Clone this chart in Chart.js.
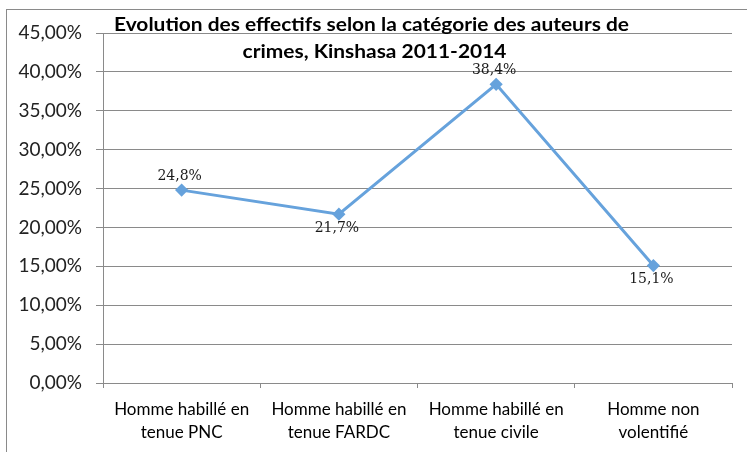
<!DOCTYPE html>
<html>
<head>
<meta charset="utf-8">
<script src="https://cdn.jsdelivr.net/npm/chart.js@4/dist/chart.umd.min.js"></script>
<style>
  html, body { margin: 0; padding: 0; background: #fff; }
  #wrap { width: 747px; height: 452px; position: relative; }
</style>
</head>
<body>
<div id="wrap"><canvas id="c" width="747" height="452"></canvas></div>
<script>
const categories = [
  ['Homme habillé en', 'tenue PNC'],
  ['Homme habillé en', 'tenue FARDC'],
  ['Homme habillé en', 'tenue civile'],
  ['Homme non', 'volentifié']
];
const values = [24.8, 21.7, 38.4, 15.1];
const labelSide = ['above', 'below', 'above', 'below'];
const titleLines = ['Evolution des effectifs selon la catégorie des auteurs de', 'crimes, Kinshasa 2011-2014'];
const yMin = 0, yMax = 45, yStep = 5;

const frPct = (v, d) => v.toFixed(d).replace('.', ',') + '%';

const decor = {
  id: 'decor',
  beforeDraw(chart) {
    const ctx = chart.ctx;
    ctx.save();
    ctx.fillStyle = '#fff';
    ctx.fillRect(0, 0, chart.width, chart.height);
    ctx.strokeStyle = '#8a8a8a';
    ctx.lineWidth = 1;
    ctx.strokeRect(6.5, 9.5, chart.width + 20, chart.height + 20);
    ctx.restore();
  },
  afterDatasetsDraw(chart) {
    const ctx = chart.ctx;
    ctx.save();
    // data labels
    const meta = chart.getDatasetMeta(0);
    ctx.font = '14px "DejaVu Serif"';
    ctx.fillStyle = '#1a1a1a';
    ctx.textAlign = 'center';
    ctx.textBaseline = 'middle';
    meta.data.forEach((pt, i) => {
      const off = labelSide[i] === 'above' ? -14 : 14;
      ctx.fillText(frPct(values[i], 1), pt.x - 2, pt.y + off);
    });
    // title
    ctx.font = 'bold 19px Lato';
    ctx.fillStyle = '#000';
    ctx.textAlign = 'center';
    ctx.textBaseline = 'middle';
    const cx = chart.width / 2 - 2;
    const w0 = ctx.measureText(titleLines[0]).width;
    const sx = 515 / w0;
    ctx.translate(cx, 0);
    ctx.scale(sx, 1);
    ctx.fillText(titleLines[0], 0, 25);
    ctx.fillText(titleLines[1], 3 / sx, 52);
    ctx.restore();
  }
};

new Chart(document.getElementById('c'), {
  type: 'line',
  data: {
    labels: categories,
    datasets: [{
      data: values,
      borderColor: '#66a2dc',
      backgroundColor: '#66a2dc',
      borderWidth: 3,
      pointStyle: 'rectRot',
      pointRadius: 4.5,
      pointHoverRadius: 4.5,
      tension: 0,
      fill: false
    }]
  },
  options: {
    responsive: false,
    animation: false,
    devicePixelRatio: 1,
    layout: { padding: { top: 33, right: 15, left: 0, bottom: 0 } },
    plugins: { legend: { display: false }, title: { display: false }, tooltip: { enabled: false } },
    scales: {
      x: {
        type: 'category',
        offset: true,
        grid: { offset: true, drawOnChartArea: false, drawTicks: true, tickLength: 5, color: '#8a8a8a' },
        border: { display: true, color: '#8a8a8a', width: 1 },
        ticks: { color: '#000', font: { family: 'Lato', size: 17, lineHeight: 1.35 }, padding: 10, maxRotation: 0, autoSkip: false },
        afterFit(scale) { scale.height = 69; }
      },
      y: {
        min: yMin, max: yMax,
        grid: { color: '#8a8a8a', tickLength: 7, drawTicks: true },
        border: { display: true, color: '#8a8a8a', width: 1 },
        ticks: {
          stepSize: yStep,
          color: '#222',
          font: { family: 'Lato', size: 19 },
          padding: 14,
          callback: (v) => frPct(v, 2)
        },
        afterFit(scale) { scale.width = 103; }
      }
    }
  },
  plugins: [decor]
});
</script>
</body>
</html>
